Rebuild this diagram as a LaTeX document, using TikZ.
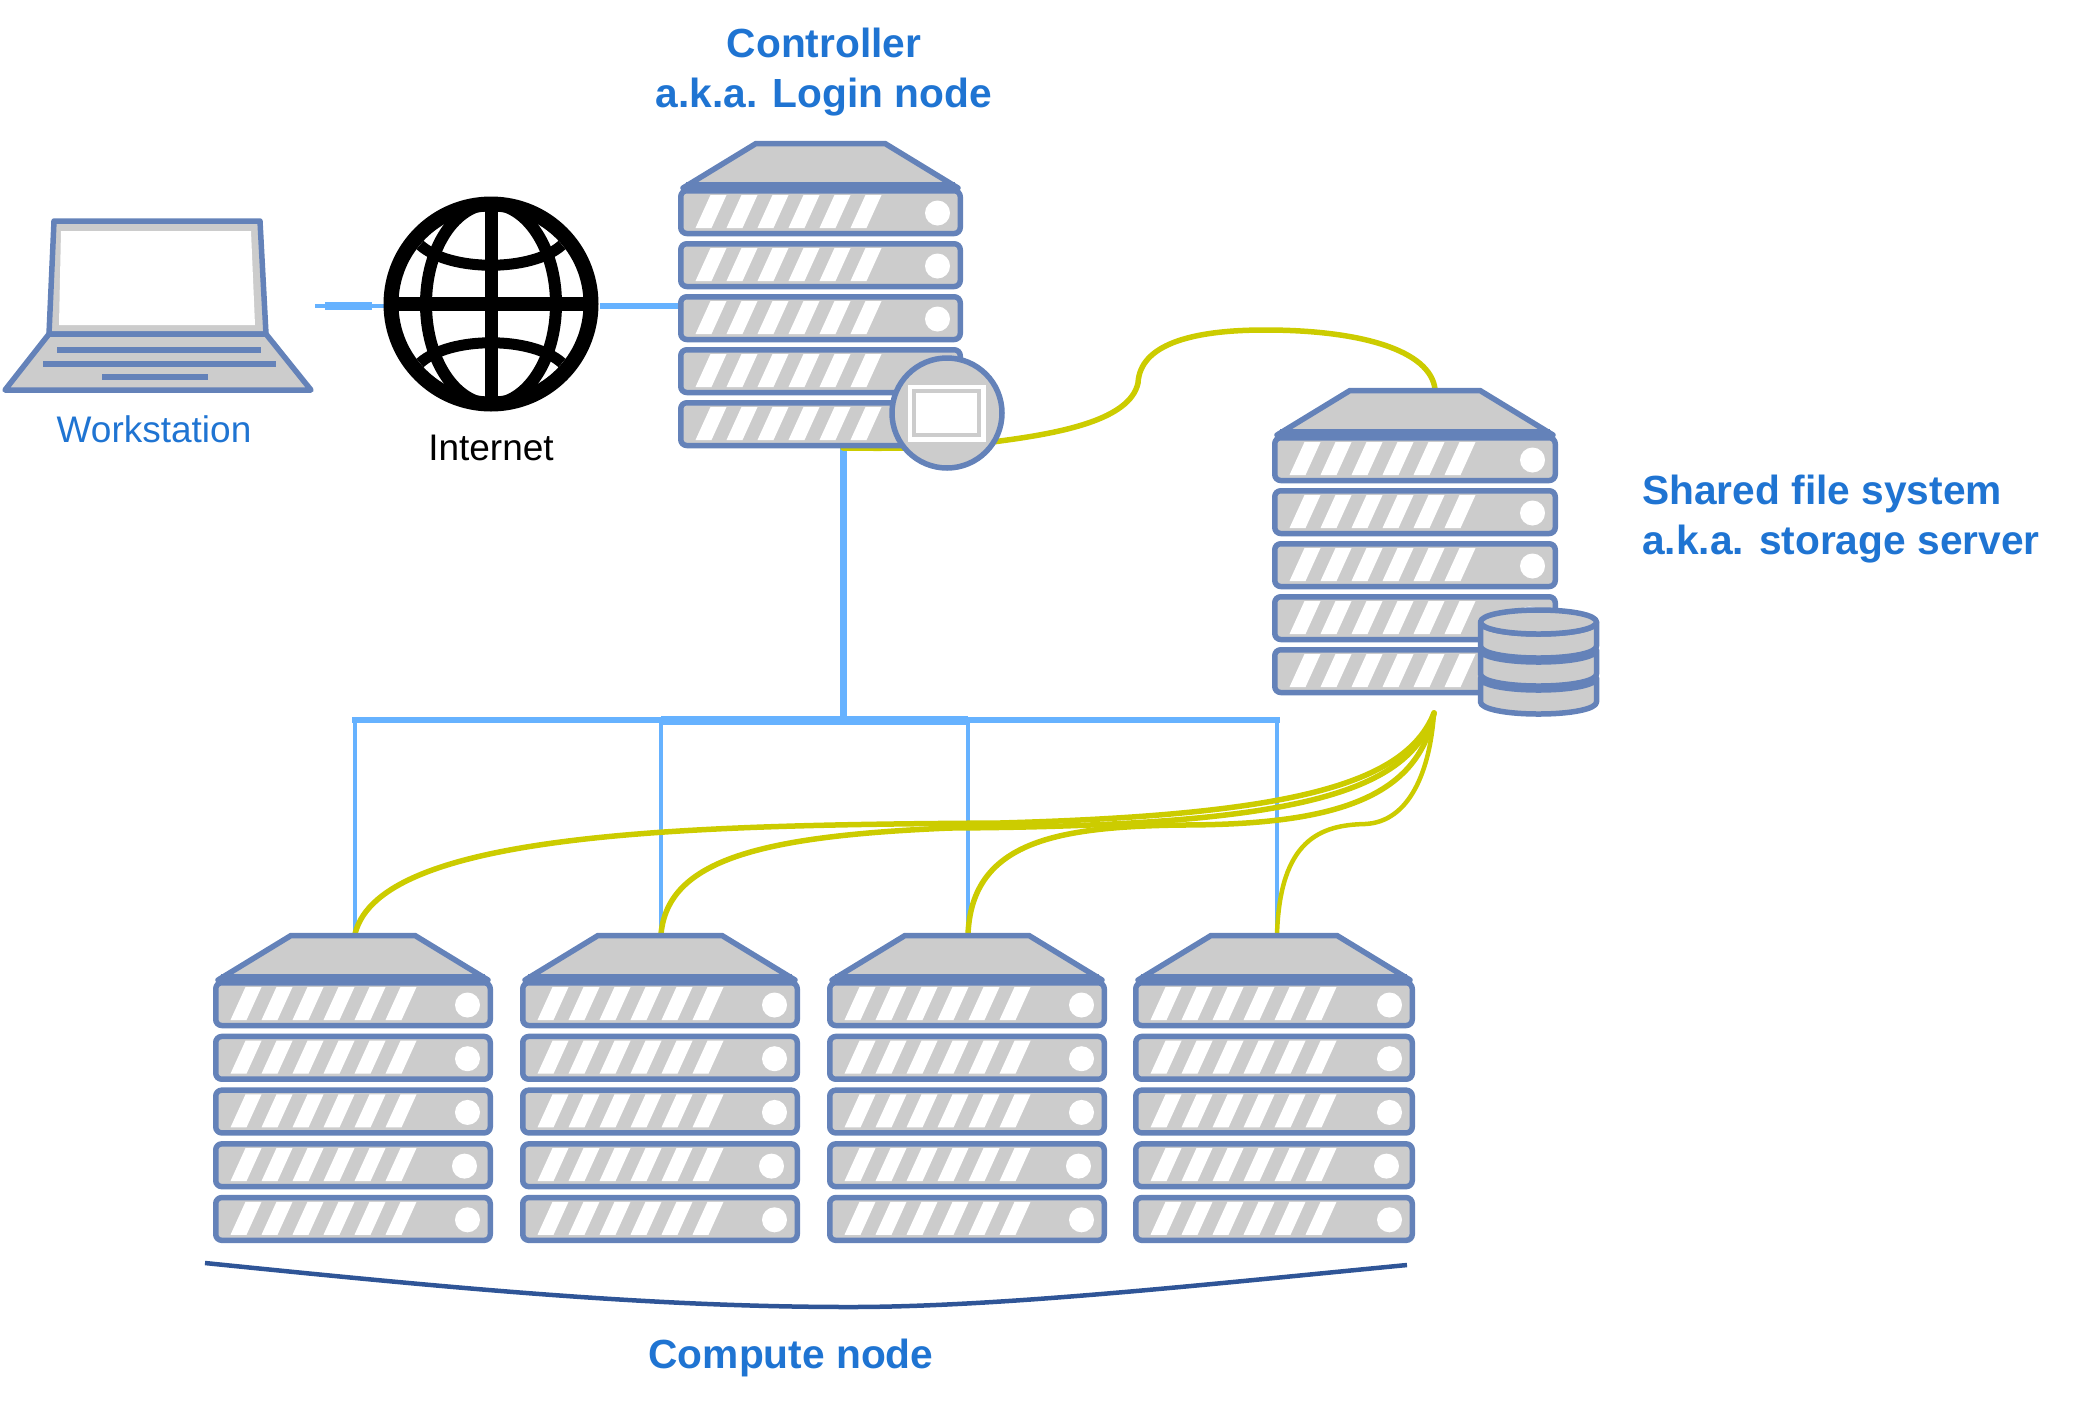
\documentclass[tikz,border=0pt]{standalone}
\usepackage{fontspec}
\setmainfont{Liberation Sans}
\definecolor{rackblue}{HTML}{6482B9}
\definecolor{rackgrey}{HTML}{CCCCCC}
\definecolor{wire}{HTML}{66B2FF}
\definecolor{olive}{HTML}{CCCC00}
\definecolor{brace}{HTML}{2F5597}
\definecolor{labelblue}{HTML}{1F74D2}
\tikzset{
  hw/.style={draw=rackblue,fill=rackgrey,line width=5.5pt,line join=round},
  netwire/.style={draw=wire,line width=#1},
  netwire/.default=4.5pt,
  fslink/.style={draw=olive,line width=#1,line cap=round},
  fslink/.default=5.5pt,
  biglabel/.style={text=labelblue,font=\fontsize{40.7}{50}\selectfont\bfseries,inner sep=0pt},
  smalllabel/.style={font=\fontsize{37}{44}\selectfont,inner sep=0pt},
}
% \rackunit{x}{y}{width}{pitch}
\newcommand{\rackunit}[4]{%
\begin{scope}[shift={(#1,#2)}]
  \draw[hw] (5,0) -- (78,-44.5) -- (#3-78,-44.5) -- (#3-5,0) -- cycle;
  \draw[rackblue,line width=6pt] (8,-3) -- (#3-8,-3);
  \foreach \r in {0,...,4}{%
    \pgfmathsetmacro{\yy}{\r*#4}%
    \pgfmathsetmacro{\dot}{\r==3 ? #3-28.5 : #3-25.5}%
    \begin{scope}[shift={(0,\yy)}]
      \draw[hw,rounded corners=6pt] (2.75,2.75) rectangle (#3-2.75,45.5);
      \foreach \i in {0,...,5}{%
        \pgfmathsetmacro{\xa}{17.5+31*\i}%
        \fill[white] (\xa,40) -- (\xa+15,7) -- (\xa+31,7) -- (\xa+16,40) -- cycle;
      }
      \fill[white] (\dot,25) circle[radius=12.5];
    \end{scope}
  }
\end{scope}}
\begin{document}
\begin{tikzpicture}[x=1pt,y=-1pt]
\useasboundingbox (0,0) rectangle (2100,1403);
% anchor points
\coordinate (wsport) at (315,306);
\coordinate (inetw) at (388,306);
\coordinate (inete) at (600,306);
\coordinate (ctlw) at (680,306);
\coordinate (ctlb) at (843,448);
\coordinate (storetop) at (1435,389);
\coordinate (hub) at (1434,713);
\coordinate (ctlbus) at (843,720);
\coordinate (n1) at (355,934);
\coordinate (n2) at (661,934);
\coordinate (n3) at (968,934);
\coordinate (n4) at (1277,934);
% network wires
\draw[netwire=4.5pt] (wsport) -- (inetw);
\draw[netwire=7.5pt] (325,306) -- (372,306);
\draw[netwire=5.5pt] (inete) -- (ctlw);
\draw[netwire=7pt] (ctlb) -- (ctlbus);
\draw[netwire=4.5pt] (n1) -- (n1|-ctlbus);
\draw[netwire=4.5pt] (n2) -- (n2|-ctlbus);
\draw[netwire=4.5pt] (n3) -- (n3|-ctlbus);
\draw[netwire=4.5pt] (n4) -- (n4|-ctlbus);
\draw[netwire=6pt,line cap=rect] (n1|-ctlbus) -- (n4|-ctlbus);
\draw[netwire=9pt] (n2|-ctlbus) -- (n3|-ctlbus);
% shared file system links
\draw[fslink] (ctlb) .. controls (920,449) and (960,447) .. (1000,441)
  .. controls (1060,433) and (1130,420) .. (1138,383)
  .. controls (1140,345) and (1190,330) .. (1265,330)
  .. controls (1360,330) and (1430,350) .. (storetop);
\draw[fslink] (hub) .. controls (1405,785) and (1290,815) .. (1000,823)
  .. controls (700,825) and (380,830) .. (n1);
\draw[fslink] (hub) .. controls (1408,795) and (1290,826) .. (950,828)
  .. controls (760,836) and (668,860) .. (n2);
\draw[fslink] (hub) .. controls (1418,800) and (1330,825) .. (1180,825)
  .. controls (1060,827) and (972,840) .. (n3);
\draw[fslink=4.5pt] (hub) .. controls (1430,770) and (1410,822) .. (1365,824)
  .. controls (1320,825) and (1280,840) .. (n4);
% laptop
\draw[hw] (54,221) -- (260,221) -- (266,334) -- (49,334) -- cycle;
\fill[white] (61,231) -- (251,231) -- (255,325) -- (59,325) -- cycle;
\draw[hw] (49,334) -- (266,334) -- (311,390) -- (5,390) -- cycle;
\draw[rackblue,line width=5.5pt] (57,350) -- (261,350) (43,364) -- (276,364) (102,377) -- (208,377);
% globe
\begin{scope}[black]
  \draw[line width=15pt] (491,304) circle[radius=100];
  \draw[line width=12pt] (491,304) ellipse[x radius=65,y radius=100];
  \draw[line width=14pt] (391,304) -- (591,304);
  \draw[line width=13pt] (491,204) -- (491,404);
  \draw[line width=11pt] (420,245) .. controls (450,272) and (532,272) .. (562,245);
  \draw[line width=11pt] (420,363) .. controls (450,336) and (532,336) .. (562,363);
\end{scope}
\coordinate (globe) at (491,304);
% racks
\rackunit{678}{188}{285}{53}
\rackunit{1272}{435}{286}{53}
\rackunit{213}{980}{280}{53.7}
\rackunit{520}{980}{280}{53.7}
\rackunit{827}{980}{280}{53.7}
\rackunit{1133}{980}{282}{53.7}
% login badge
\draw[hw] (947,413) circle[radius=55];
\fill[white] (908,385) rectangle (986,442);
\draw[rackgrey,line width=4pt] (914,391) rectangle (979,435);
% storage drum
\foreach \yd in {678,650,622}{%
  \draw[hw] (1480.5,\yd) -- (1480.5,\yd+24)
    .. controls (1480.5,\yd+31) and (1506,\yd+36) .. (1538.5,\yd+36)
    .. controls (1571,\yd+36) and (1596.5,\yd+31) .. (1596.5,\yd+24)
    -- (1596.5,\yd)
    .. controls (1596.5,\yd+7) and (1571,\yd+12) .. (1538.5,\yd+12)
    .. controls (1506,\yd+12) and (1480.5,\yd+7) .. (1480.5,\yd) -- cycle;
}
\draw[hw] (1480.5,622) .. controls (1480.5,615) and (1506,610) .. (1538.5,610)
    .. controls (1571,610) and (1596.5,615) .. (1596.5,622)
    .. controls (1596.5,629) and (1571,634) .. (1538.5,634)
    .. controls (1506,634) and (1480.5,629) .. (1480.5,622) -- cycle;
% bracket
\coordinate (bl) at (205,1263);
\coordinate (br) at (1407,1265);
\draw[brace,line width=4.5pt] (bl) .. controls (450,1288) and (650,1307) .. (850,1307)
   .. controls (1000,1307) and (1200,1285) .. (br);
% labels
\node[biglabel,align=center] (ctllabel) at (824,72) {Controller\\a.k.a. Login node};
\node[biglabel,align=left,anchor=west] (storelabel) at (1642,519) {Shared file system\\a.k.a. storage server};
\node[biglabel] (complabel) at (791,1358) {Compute node};
\node[smalllabel,text=labelblue] (wslabel) at (154,429) {Workstation};
\node[smalllabel,text=black] (inetlabel) at (491,448) {Internet};
\end{tikzpicture}
\end{document}
